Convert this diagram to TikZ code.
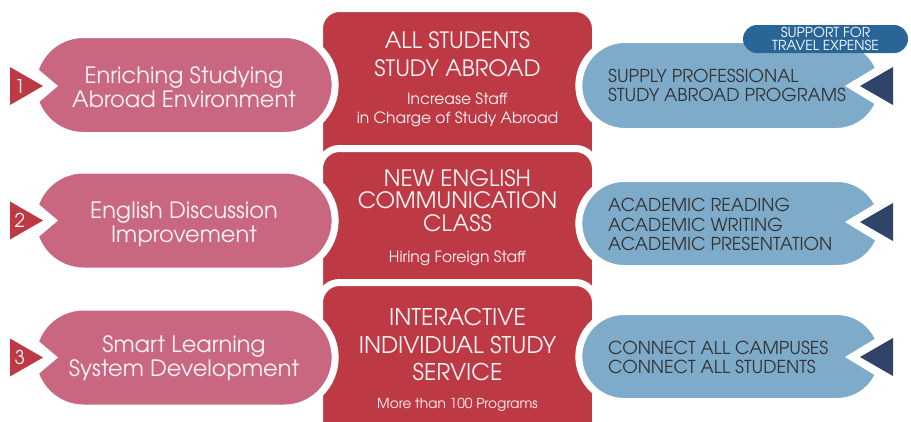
\documentclass[tikz,border=0pt]{standalone}
\usepackage{fontspec}
\setmainfont{texgyreadventor-regular.otf}
\usetikzlibrary{shapes.misc}
\usetikzlibrary{positioning}

\definecolor{boxred}{HTML}{BD3A45}
\definecolor{goalpink}{HTML}{C96781}
\definecolor{planblue}{HTML}{7FABCA}
\definecolor{tipnavy}{HTML}{2F4468}
\definecolor{badgeblue}{HTML}{2A6598}
\definecolor{plantext}{HTML}{333333}
\definecolor{softwhite}{HTML}{FBF3F5}

\tikzset{
    redbox/.style={
        rectangle, anchor=north, rounded corners=20pt,
        fill=boxred, draw=white, line width=7pt, outer sep=0pt,
        minimum width=276pt,
    },
    goalpill/.style={
        rounded rectangle, fill=goalpink, draw=white, line width=7pt,
        minimum width=309pt, minimum height=101pt,
    },
    planpill/.style={
        rounded rectangle, fill=planblue, draw=white, line width=7pt,
        minimum width=310pt, minimum height=90pt,
    },
    goaltext/.style={
        align=center, text=softwhite, inner sep=0pt,
        font=\fontsize{22.5}{24}\selectfont,
    },
    titletext/.style={
        align=center, text=softwhite, inner sep=0pt,
    },
    plantextstyle/.style={
        anchor=west, align=left, text=plantext, inner sep=0pt,
        font=\fontsize{17.8}{19.6}\selectfont,
    },
    numtext/.style={
        text=softwhite, inner sep=0pt, font=\fontsize{19}{19}\selectfont,
    },
}

\begin{document}
\begin{tikzpicture}[x=1pt, y=-1pt]
    \useasboundingbox (0,0) rectangle (911,421);
    \clip (0,0) rectangle (911,421);

    % central red boxes, each one laid over the one above
    \node (box1) at (457.5,8.5) [redbox, minimum height=200pt] {};
    \node (box2) at (457.5,148.5) [redbox, minimum height=200pt] {};
    \node (box3) at (457.5,282.5) [redbox, minimum height=170pt] {};

    % left goals
    \node (goal1) at (184,85) [goalpill] {};
    \node (goal2) at (184,220.5) [goalpill] {};
    \node (goal3) at (184,357.5) [goalpill] {};

    % right plans
    \node (plan1) at (730.5,85.5) [planpill, minimum height=92pt] {};
    \node (plan2) at (730.5,223.5) [planpill] {};
    \node (plan3) at (730.5,356.5) [planpill] {};

    % notches and markers
    \fill[white] (0,37) -- (58,86) -- (0,135) -- cycle;
    \fill[white] (0,171.5) -- (58,220.5) -- (0,269.5) -- cycle;
    \fill[white] (0,308.5) -- (58,357.5) -- (0,406.5) -- cycle;
    \fill[boxred] (10,67) -- (43,86) -- (10,105) -- cycle;
    \fill[boxred] (10,201.5) -- (43,220.5) -- (10,239.5) -- cycle;
    \fill[boxred] (10,338.5) -- (43,357.5) -- (10,376.5) -- cycle;

    \fill[white] (911,46) -- (845,86) -- (911,126) -- cycle;
    \fill[white] (911,182) -- (845,222) -- (911,262) -- cycle;
    \fill[white] (911,317) -- (845,357) -- (911,397) -- cycle;
    \fill[tipnavy] (893,67) -- (860,86) -- (893,105) -- cycle;
    \fill[tipnavy] (893,203) -- (860,222) -- (893,241) -- cycle;
    \fill[tipnavy] (893,338) -- (860,357) -- (893,376) -- cycle;

    \node (num1) at (20,86) [numtext] {1};
    \node (num2) at (20,220.5) [numtext] {2};
    \node (num3) at (20,357.5) [numtext] {3};

    \node (travel) at (825.5,39) [
        rounded rectangle, fill=badgeblue,
        minimum width=165pt, minimum height=28pt, inner sep=0pt,
        align=center, text=white,
        font=\fontsize{13.8}{13.2}\selectfont,
    ] {SUPPORT FOR\\TRAVEL EXPENSE};

    % texts
    \node (goaltext1) at (goal1.center) [goaltext, yshift=-2.5pt] {Enriching Studying\\Abroad Environment};
    \node (goaltext2) at (goal2.center) [goaltext, yshift=-4pt] {English Discussion\\Improvement};
    \node (goaltext3) at (goal3.center) [goaltext, yshift=-1pt] {Smart Learning\\System Development};

    \node (title1) at (457.5,54) [titletext, font=\fontsize{22.5}{28}\selectfont] {ALL STUDENTS\\STUDY ABROAD};
    \node (sub1) at (457.5,110) [titletext, font=\fontsize{15.5}{18.5}\selectfont] {Increase Staff\\in Charge of Study Abroad};
    \node (title2) at (457.5,200.5) [titletext, font=\fontsize{22.5}{22.5}\selectfont] {NEW ENGLISH\\COMMUNICATION\\CLASS};
    \node (sub2) at (457.5,258.5) [titletext, font=\fontsize{15.5}{18}\selectfont] {Hiring Foreign Staff};
    \node (title3) at (457.5,344.5) [titletext, font=\fontsize{23}{27.5}\selectfont] {INTERACTIVE\\INDIVIDUAL STUDY\\SERVICE};
    \node (sub3) at (457.5,405) [titletext, font=\fontsize{13.7}{14}\selectfont] {More than 100 Programs};

    \node (plantext1) at (608,85.5) [plantextstyle] {SUPPLY PROFESSIONAL\\STUDY ABROAD PROGRAMS};
    \node (plantext2) at (608,224.5) [plantextstyle] {ACADEMIC READING\\ACADEMIC WRITING\\ACADEMIC PRESENTATION};
    \node (plantext3) at (608,357.5) [plantextstyle] {CONNECT ALL CAMPUSES\\CONNECT ALL STUDENTS};
\end{tikzpicture}
\end{document}
